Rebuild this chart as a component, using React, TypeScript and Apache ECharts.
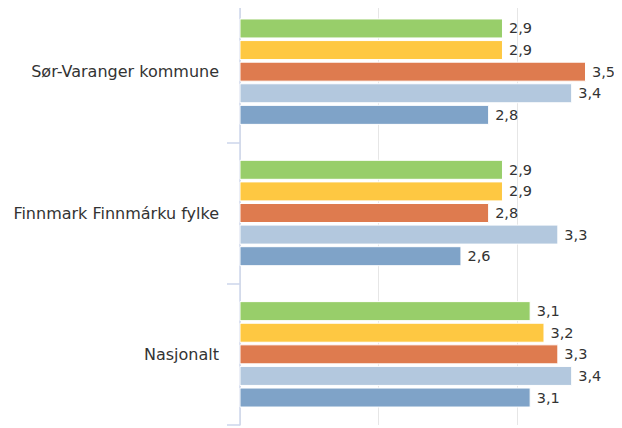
import React, { useEffect, useRef } from "react";
import * as echarts from "echarts";

const categories = ["Sør-Varanger kommune", "Finnmark Finnmárku fylke", "Nasjonalt"];
const seriesA = [2.9, 2.9, 3.1];
const seriesB = [2.9, 2.9, 3.2];
const seriesC = [3.5, 2.8, 3.3];
const seriesD = [3.4, 3.3, 3.4];
const seriesE = [2.8, 2.6, 3.1];
const seriesColors = ["#98ce6a", "#fec842", "#de7b4f", "#b3c8de", "#7fa3c8"];

const FONT = "'DejaVu Sans', sans-serif";

export default function App() {
  const ref = useRef<HTMLDivElement>(null);
  useEffect(() => {
    if (!ref.current) return;
    const chart = echarts.init(ref.current, undefined, { renderer: "svg" });
    const all = [seriesA, seriesB, seriesC, seriesD, seriesE];
    chart.setOption({
      animation: false,
      grid: { left: 240, top: 1, right: 0, height: 424, containLabel: false },
      xAxis: {
        type: "value",
        min: 1,
        max: 3.76,
        interval: 1,
        axisLabel: { show: false },
        axisLine: { show: false },
        axisTick: { show: false },
        splitLine: { showMaxLine: false, lineStyle: { color: "#e6e6e6", width: 1 } },
      },
      yAxis: {
        type: "category",
        data: categories,
        inverse: true,
        axisLine: { lineStyle: { color: "#ccd6eb", width: 1.5 } },
        axisTick: { show: true, length: 13, lineStyle: { color: "#ccd6eb", width: 1.5 } },
        axisLabel: { color: "#333333", fontSize: 16, fontFamily: FONT, margin: 21 },
      },
      series: all.map((d, i) => ({
        type: "bar",
        data: d,
        barWidth: 20,
        barGap: "8%",
        itemStyle: { color: seriesColors[i], borderColor: "#ffffff", borderWidth: 1 },
        label: {
          show: true,
          position: "right",
          distance: 6,
          color: "#333333",
          fontSize: 14.5,
          fontFamily: FONT,
          formatter: (p: any) => String(p.value).replace(".", ","),
        },
      })),
    });
    return () => chart.dispose();
  }, []);
  return <div ref={ref} style={{ width: 622, height: 428, margin: "-8px 0 0 -8px" }} />;
}
